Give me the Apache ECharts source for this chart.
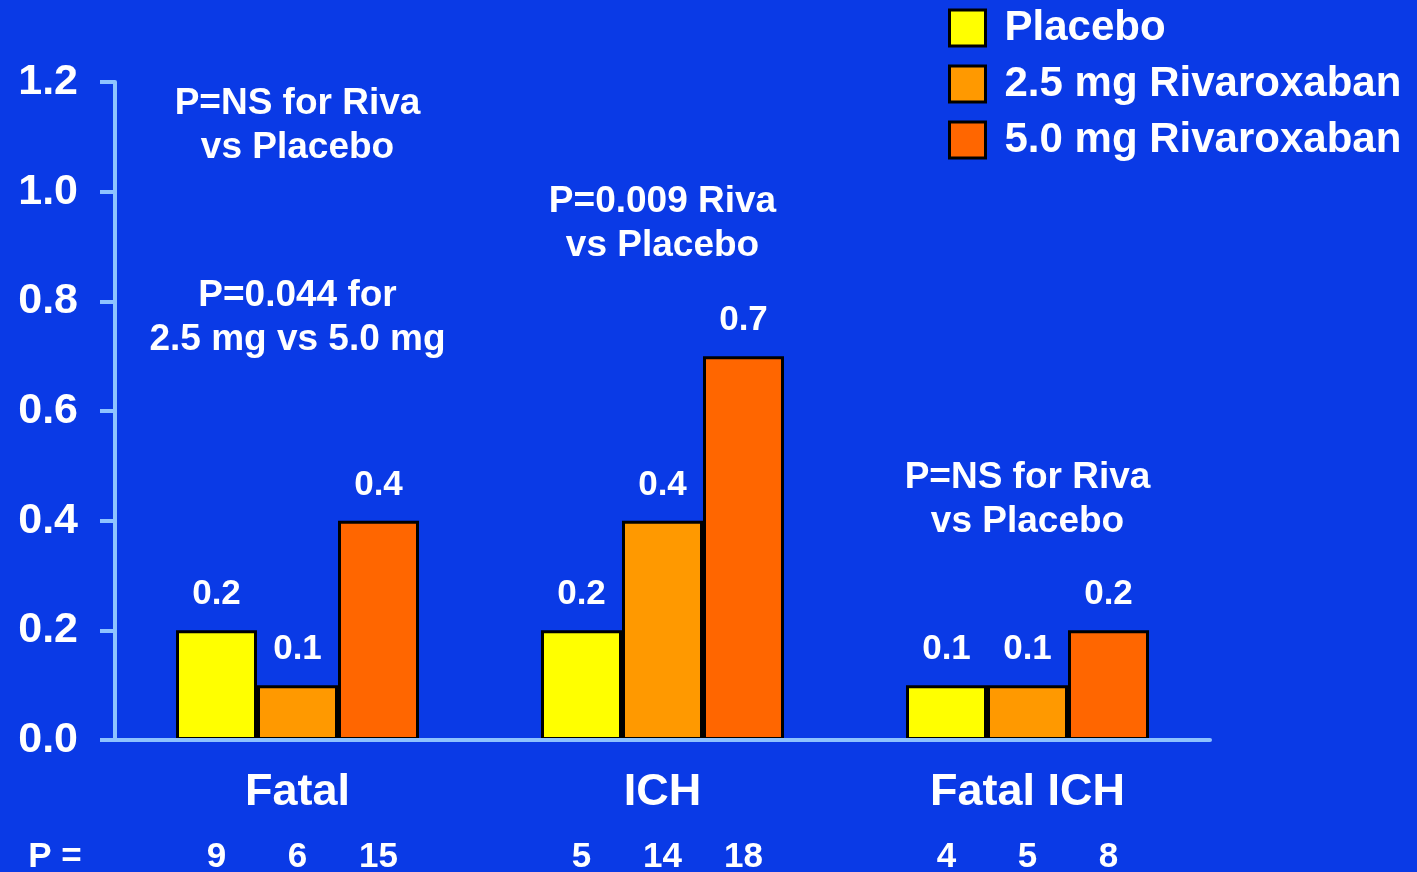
<!DOCTYPE html>
<html>
<head>
<meta charset="utf-8">
<script src="https://cdn.jsdelivr.net/npm/echarts@6/dist/echarts.min.js"></script>
<style>
  html, body { margin: 0; padding: 0; background: #0a3ae6; }
  #chart { width: 1417px; height: 872px; }
</style>
</head>
<body>
<div id="chart"></div>
<script>
// Bleeding event rates (%) by treatment arm
const categories = ['Fatal', 'ICH', 'Fatal ICH'];
const seriesNames = ['Placebo', '2.5 mg Rivaroxaban', '5.0 mg Rivaroxaban'];
const placebo = [0.2, 0.2, 0.1];
const riva25 = [0.1, 0.4, 0.1];
const riva50 = [0.4, 0.7, 0.2];
// Number of patients with events per arm
const patientsPlacebo = [9, 5, 4];
const patients25 = [6, 14, 5];
const patients50 = [15, 18, 8];
const yTicks = [0, 0.2, 0.4, 0.6, 0.8, 1.0, 1.2];

const colors = ['#ffff00', '#ff9900', '#ff6600'];
const FONT = 'Arial, "Liberation Sans", Helvetica, sans-serif';
const BAR_W = 81;
const AXIS_COLOR = '#8ec3ff';

const chart = echarts.init(document.getElementById('chart'));

function barSeries(name, data, color) {
  return {
    name: name,
    type: 'bar',
    data: data,
    barWidth: BAR_W,
    barGap: '0%',
    itemStyle: { color: color, borderColor: '#000', borderWidth: 3 },
    label: {
      show: true,
      position: 'top',
      distance: 18,
      color: '#fff',
      fontFamily: FONT,
      fontWeight: 'bold',
      fontSize: 35,
      formatter: p => p.value.toFixed(1)
    }
  };
}

chart.setOption({
  backgroundColor: '#0a3ae6',
  animation: false,
  grid: { left: 115, right: 207, top: 82, bottom: 132 },
  legend: {
    orient: 'vertical',
    left: 948,
    top: 7,
    padding: 0,
    icon: 'rect',
    itemWidth: 36,
    itemHeight: 36,
    itemGap: 14,
    itemStyle: { borderColor: '#000', borderWidth: 3 },
    textStyle: {
      color: '#fff', fontFamily: FONT, fontWeight: 'bold', fontSize: 42,
      lineHeight: 42, padding: [0, 0, 0, 14]
    },
    data: seriesNames
  },
  xAxis: {
    type: 'category',
    data: categories,
    z: 10,
    axisLine: { lineStyle: { color: AXIS_COLOR, width: 4 } },
    axisTick: { show: false },
    axisLabel: { color: '#fff', fontFamily: FONT, fontWeight: 'bold', fontSize: 45, margin: 30 }
  },
  yAxis: {
    type: 'value',
    min: yTicks[0],
    max: yTicks[yTicks.length - 1],
    interval: 0.2,
    z: 10,
    splitLine: { show: false },
    axisLine: { show: true, lineStyle: { color: AXIS_COLOR, width: 4 } },
    axisTick: { show: true, length: 15, lineStyle: { color: AXIS_COLOR, width: 4 } },
    axisLabel: {
      color: '#fff', fontFamily: FONT, fontWeight: 'bold', fontSize: 43, margin: 37,
      formatter: v => v.toFixed(1)
    }
  },
  series: [
    barSeries(seriesNames[0], placebo, colors[0]),
    barSeries(seriesNames[1], riva25, colors[1]),
    barSeries(seriesNames[2], riva50, colors[2])
  ]
});

// Text placed relative to the category positions on the x axis
const patientRows = [patientsPlacebo, patients25, patients50];
const textStyle = (text, size) => ({
  text: text, fill: '#fff', font: 'bold ' + size + 'px ' + FONT,
  align: 'center', verticalAlign: 'middle', lineHeight: 44
});
const elements = [];
categories.forEach((c, i) => {
  const cx = chart.convertToPixel({ xAxisIndex: 0 }, c);
  patientRows.forEach((row, j) => {
    elements.push({ type: 'text', x: cx + (j - 1) * BAR_W, y: 857, style: textStyle(String(row[i]), 35) });
  });
});
elements.push({ type: 'text', x: 55, y: 857, style: textStyle('P =', 35) });

const notes = [
  { cat: 'Fatal', y: 126, text: 'P=NS for Riva\nvs Placebo' },
  { cat: 'Fatal', y: 318, text: 'P=0.044 for\n2.5 mg vs 5.0 mg' },
  { cat: 'ICH', y: 224, text: 'P=0.009 Riva\nvs Placebo' },
  { cat: 'Fatal ICH', y: 500, text: 'P=NS for Riva\nvs Placebo' }
];
notes.forEach(n => {
  const cx = chart.convertToPixel({ xAxisIndex: 0 }, n.cat);
  elements.push({ type: 'text', x: cx, y: n.y, style: textStyle(n.text, 37) });
});
chart.setOption({ graphic: { elements: elements } });
</script>
</body>
</html>
